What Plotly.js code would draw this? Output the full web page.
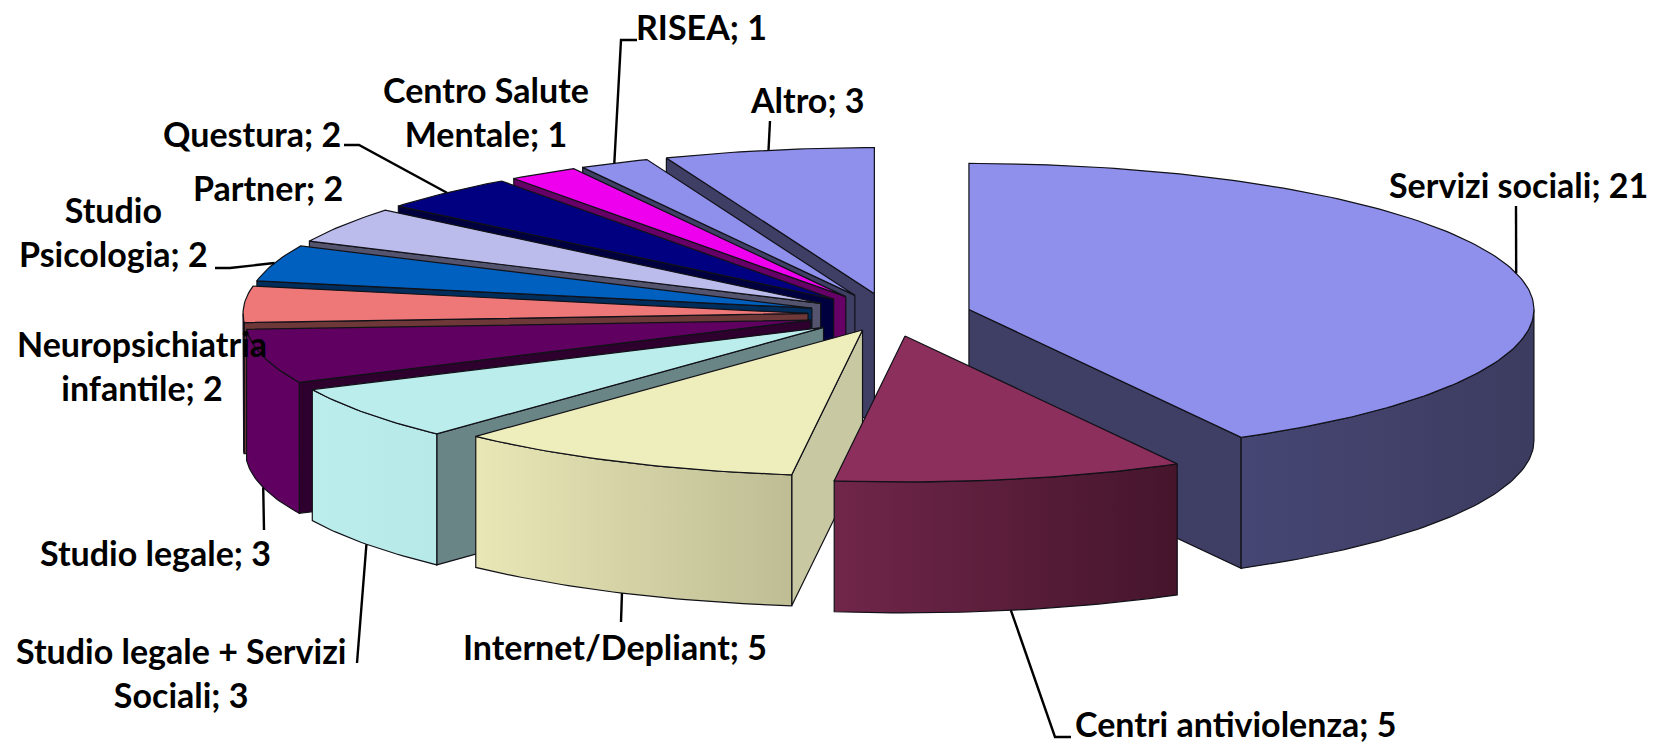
<!DOCTYPE html>
<html>
<head>
<meta charset="utf-8">
<script src="https://cdn.plot.ly/plotly-3.0.1.min.js"></script>
<style>html,body{margin:0;padding:0;background:#fff;overflow:hidden}</style>
</head>
<body>
<div id="chart" style="width:1654px;height:744px"></div>
<script>
// ---- data ----
const categories = ["Servizi sociali","Centri antiviolenza","Internet/Depliant","Studio legale + Servizi Sociali","Studio legale","Neuropsichiatria infantile","Studio Psicologia","Partner","Questura","Centro Salute Mentale","RISEA","Altro"];
const values = [21,5,5,3,3,2,2,2,2,1,1,3];
// ---- styles ----
const topColors  = ["#8F8FEC","#8D2F5D","#EEEDBC","#BCEDED","#600060","#EE7878","#0060C0","#BBBBEC","#000080","#EE00EE","#8F8FEC","#8F8FEC"];
const cutColors  = ["#3F3F66","#45152C","#C8C8A2","#6A8585","#2E002E","#6E3838","#002E5C","#54546E","#00003E","#660066","#3F3F66","#3F3F66"];
const wallLeft   = ["#464674","#702649","#E9E7B6","#BCEDED","#600060","#600060","#0060C0","#BBBBEC","#000080","#EE00EE","#8F8FEC","#8F8FEC"];
const wallRight  = ["#3C3C60","#45152C","#BEBD94","#B8E9E9","#600060","#600060","#0060C0","#BBBBEC","#000080","#EE00EE","#8F8FEC","#8F8FEC"];
const labelLines = ["Servizi sociali; 21","Centri antiviolenza; 5","Internet/Depliant; 5","Studio legale + Servizi<br>Sociali; 3","Studio legale; 3","Neuropsichiatria<br>infantile; 2","Studio<br>Psicologia; 2","Partner; 2","Questura; 2","Centro Salute<br>Mentale; 1","RISEA; 1","Altro; 3"];
const labelX = [1518,1236,615,181,155,142,113,268,252,486,701,807];
const labelY = [184,723,646,672,552,365,231,187,133,111,26,99];
// leader: elbow points (from label towards slice); null = no leader
const leaders = [[[1516,206]],[[1071,737],[1055,737]],[[621,622]],[[357,663]],[[264,530]],null,[[215,268],[230,268]],null,[[344,145],[359,145]],null,[[637,40],[621,40]],[[770,121]]];
const leaderWall = [false,true,true,true,true,false,false,false,false,false,false,false];
// ---- projection ----
const cx=889.7, cy=314.8, rx=565, ry=146, depth=131, pullX=81.8, pullY=21.5;
const pull = [1,1,0.78,1,1,1,1,1,1,1,1,1];
const total = values.reduce((a,b)=>a+b,0);
const rad = d=>d*Math.PI/180;
const traces=[];
let acc=0;
const slices = values.map((v,i)=>{
  const a1=acc/total*360; acc+=v; const a2=acc/total*360; const m=(a1+a2)/2;
  return {i,a1,a2,m,ox:cx+pull[i]*pullX*Math.sin(rad(m)),oy:cy-pull[i]*pullY*Math.cos(rad(m))};
});
function pt(s,a,dz){return [s.ox+rx*Math.sin(rad(a)), s.oy-ry*Math.cos(rad(a))+(dz||0)];}
function arc(s,a,b,dz){const n=Math.max(2,Math.ceil(Math.abs(b-a)));const o=[];for(let k=0;k<=n;k++)o.push(pt(s,a+(b-a)*k/n,dz));return o;}
function poly(points,color,extra){
  const xs=points.map(p=>p[0]).concat(points[0][0]), ys=points.map(p=>p[1]).concat(points[0][1]);
  traces.push(Object.assign({type:"scatter",mode:"lines",x:xs,y:ys,fill:"toself",fillcolor:color,
    line:{color:"#111118",width:1.2},hoverinfo:"skip",showlegend:false},extra||{}));
}
function drawSlice(s){
  const i=s.i, o=[s.ox,s.oy], ob=[s.ox,s.oy+depth];
  // cut faces: only those turned towards the viewer
  if(s.a1>=180) poly([o,pt(s,s.a1),pt(s,s.a1,depth),ob],cutColors[i]);
  if(s.a2<=180) poly([o,pt(s,s.a2),pt(s,s.a2,depth),ob],cutColors[i]);
  // outer wall (front half only)
  const w1=Math.max(s.a1,90), w2=Math.min(s.a2,270);
  if(w2>w1){
    const pts=arc(s,w1,w2,0).concat(arc(s,w2,w1,depth));
    const xs=pts.map(p=>p[0]);
    const lo=Math.min(...xs), hi=Math.max(...xs);
    poly(pts,wallLeft[i],{fillgradient:{type:"horizontal",start:lo,stop:hi,
      colorscale:[[0,wallLeft[i]],[1,wallRight[i]]]}});
  }
  // top
  poly([o].concat(arc(s,s.a1,s.a2,0)),topColors[i]);
}
// painter's order: back slices first, going anticlockwise to the front
const order=[11,10,9,8,7,6,5,4,3,2,0,1];
order.forEach(k=>drawSlice(slices[k]));
// leaders
slices.forEach(s=>{
  const l=leaders[s.i]; if(!l) return;
  const end=pt(s,s.m,leaderWall[s.i]?depth:0);
  const p=l.concat([end]);
  traces.push({type:"scatter",mode:"lines",x:p.map(q=>q[0]),y:p.map(q=>q[1]),line:{color:"#000",width:2.4},hoverinfo:"skip",showlegend:false});
});
const annotations=labelLines.map((t,i)=>({x:labelX[i],y:labelY[i],xref:"x",yref:"y",text:t,showarrow:false,xanchor:"center",yanchor:"middle",align:"center",
  font:{family:"Lato, Carlito, sans-serif",size:34,color:"#000",weight:700}}));
Plotly.newPlot("chart",traces,{
  width:1654,height:744,margin:{l:0,r:0,t:0,b:0},paper_bgcolor:"#fff",plot_bgcolor:"#fff",showlegend:false,
  xaxis:{range:[0,1654],visible:false,fixedrange:true},
  yaxis:{range:[744,0],visible:false,fixedrange:true},
  annotations
},{displayModeBar:false,staticPlot:true});
</script>
</body>
</html>
